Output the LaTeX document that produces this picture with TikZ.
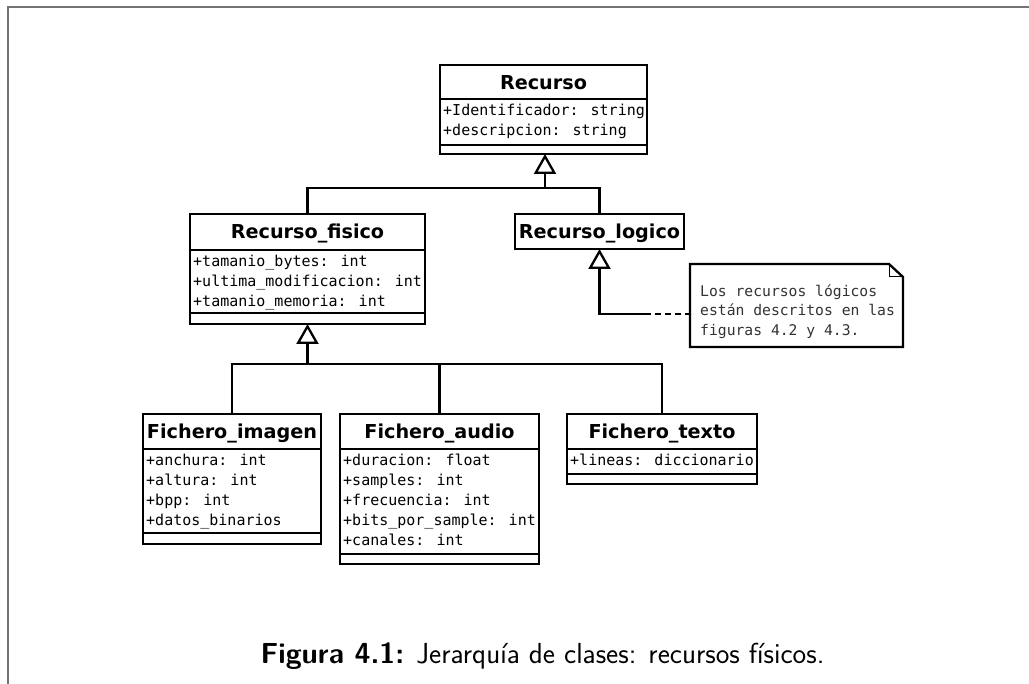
\documentclass[tikz,border=0pt]{standalone}
\usepackage{fontspec}
\usetikzlibrary{arrows.meta}
\newfontfamily\hdfont{DejaVu Sans}
\newfontfamily\attrfont{DejaVu Sans Mono}

% class frame: id, left, top, right, bottom
\newcommand\umlframe[5]{%
  \node[classframe, anchor=north west, minimum width={#4-#2}, minimum height={#5-#3}] (#1) at (#2,#3) {};}
% compartment divider: left, right, y
\newcommand\umldiv[3]{\draw[divider] (#1,#3) -- (#2,#3);}

\tikzset{
  x=1pt, y=-1pt,
  classframe/.style={draw, line width=2.6pt, fill=white, inner sep=0pt, outer sep=0pt},
  divider/.style={line width=2.4pt},
  classtitle/.style={font=\hdfont\bfseries\fontsize{19.2}{23}\selectfont, anchor=base, inner sep=0pt},
  attr/.style={font=\attrfont\fontsize{15}{20}\selectfont, anchor=base west, inner sep=0pt},
  notetext/.style={font=\attrfont\fontsize{14.7}{19.5}\selectfont, text=black!80, anchor=base west, inner sep=0pt},
  conn/.style={line width=2.3pt},
  gen/.style={conn, -{Triangle[open, width=22pt, length=20pt, line width=2.3pt]}},
  attach/.style={conn, dash pattern=on 6pt off 4pt},
  pageframe/.style={draw=black!55, line width=1.5pt},
  caption/.style={font=\sffamily\fontsize{29}{34}\selectfont, anchor=base, inner sep=0pt},
}

\begin{document}
\begin{tikzpicture}
\useasboundingbox (0,0) rectangle (1029,684);
\draw[pageframe] (8,684) -- (8,7) -- (1029,7);

% Recurso
\umlframe{recurso}{440}{65}{647}{154}
\umldiv{440}{647}{99}
\umldiv{440}{647}{145}
\node[classtitle] (recurso-t) at (543.5,90) {Recurso};
\node[attr] (recurso-a1) at (443,116) {+Identificador: string};
\node[attr] (recurso-a2) at (443,136) {+descripcion: string};

% Recurso_fisico
\umlframe{fisico}{190}{214}{425}{324}
\umldiv{190}{425}{250}
\umldiv{190}{425}{313}
\node[classtitle] (fisico-t) at (307.5,239) {Recurso\_fisico};
\node[attr] (fisico-a1) at (193,267) {+tamanio\_bytes: int};
\node[attr] (fisico-a2) at (193,287) {+ultima\_modificacion: int};
\node[attr] (fisico-a3) at (193,307) {+tamanio\_memoria: int};

% Recurso_logico
\umlframe{logico}{515}{214}{684}{249}
\node[classtitle] (logico-t) at (599.5,239) {Recurso\_logico};

% Fichero_imagen
\umlframe{imagen}{143}{414}{321}{544}
\umldiv{143}{321}{449}
\umldiv{143}{321}{533}
\node[classtitle] (imagen-t) at (232,439) {Fichero\_imagen};
\node[attr] (imagen-a1) at (146,466) {+anchura: int};
\node[attr] (imagen-a2) at (146,486) {+altura: int};
\node[attr] (imagen-a3) at (146,506) {+bpp: int};
\node[attr] (imagen-a4) at (146,526) {+datos\_binarios};

% Fichero_audio
\umlframe{audio}{340}{414}{539}{564}
\umldiv{340}{539}{449}
\umldiv{340}{539}{554}
\node[classtitle] (audio-t) at (439.5,439) {Fichero\_audio};
\node[attr] (audio-a1) at (343,466) {+duracion: float};
\node[attr] (audio-a2) at (343,486) {+samples: int};
\node[attr] (audio-a3) at (343,506) {+frecuencia: int};
\node[attr] (audio-a4) at (343,526) {+bits\_por\_sample: int};
\node[attr] (audio-a5) at (343,546) {+canales: int};

% Fichero_texto
\umlframe{texto}{567}{414}{757}{484}
\umldiv{567}{757}{449}
\umldiv{567}{757}{474}
\node[classtitle] (texto-t) at (662,439) {Fichero\_texto};
\node[attr] (texto-a1) at (570,466) {+lineas: diccionario};

% note with folded corner
\node[inner sep=0pt, outer sep=0pt, minimum width=213pt, minimum height=83pt, anchor=north west] (note) at (690,264) {};
\draw[line width=2.3pt, fill=white] (note.north west) -- ([xshift=-14pt]note.north east)
  -- ([yshift=-13pt]note.north east) -- (note.south east) -- (note.south west) -- cycle;
\draw[line width=1pt] ([xshift=-14pt]note.north east) -- ([xshift=-14pt, yshift=-13pt]note.north east)
  -- ([yshift=-13pt]note.north east);
\node[notetext] (note-l1) at (700,296.5) {Los recursos lógicos};
\node[notetext] (note-l2) at (700,316) {están descritos en las};
\node[notetext] (note-l3) at (700,335.5) {figuras 4.2 y 4.3.};

% generalisations to Recurso
\coordinate (j1) at (545,188);
\draw[conn] (fisico.north) |- (j1);
\draw[conn] (logico.north) |- (j1);
\draw[gen] (j1) -- (j1 |- recurso.south);

% generalisation to Recurso_logico and note attachment
\coordinate (k1) at (645,314);
\draw[gen] (k1) -| (logico.south);
\draw[attach] (k1) -- (note.west |- k1);

% generalisations to Recurso_fisico
\coordinate (j2) at (307.5,364);
\draw[conn] (imagen.north) |- (j2) -| (texto.north);
\draw[conn] (audio.north) -- (audio.north |- j2);
\draw[gen] (j2) -- (fisico.south);

% caption
\node[caption] (cap) at (542.5,663) {\textbf{Figura 4.1:} Jerarquía de clases: recursos físicos.};
\end{tikzpicture}
\end{document}
